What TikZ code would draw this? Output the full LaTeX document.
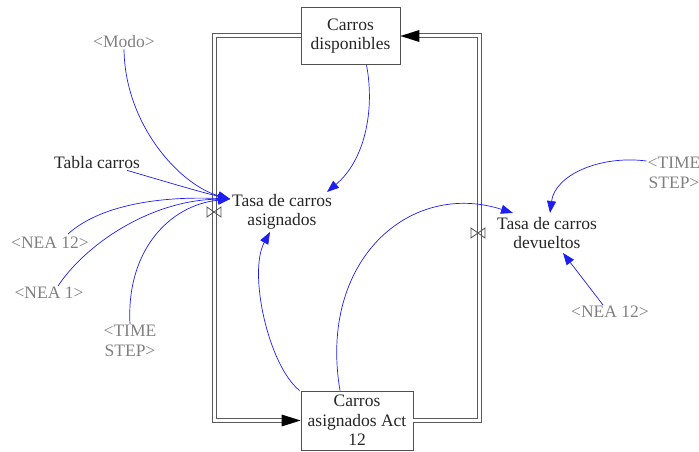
\documentclass[tikz,border=0pt]{standalone}
\usepackage{fontspec}
\setmainfont{Liberation Serif}
\usetikzlibrary{arrows.meta,calc}
\definecolor{shadowgray}{RGB}{128,128,128}
\definecolor{pipegray}{RGB}{90,90,90}
\definecolor{boxgray}{RGB}{80,80,80}
\definecolor{linkblue}{RGB}{30,30,240}
\begin{document}
\begin{tikzpicture}[x=1pt,y=-1pt,
  lbl/.style={font=\fontsize{17.5}{19.5}\selectfont, align=center, inner sep=1pt, text=black!85},
  shadowlbl/.style={lbl, text=shadowgray},
  stock/.style={lbl, draw=boxgray, line width=0.8pt, fill=white},
  pipe/.style={draw=pipegray, line width=1pt, double=white, double distance=3pt},
  pipehead/.style={fill=black},
  valve/.style={draw=boxgray, line width=0.8pt},
  link/.style={draw=linkblue, line width=0.7pt, -{Triangle[length=12pt,width=9pt]}},
]
\useasboundingbox (0,0) rectangle (699,452);

% stocks
\node[stock, minimum width=99pt, minimum height=57pt] (cd) at (350.5,36) {Carros\\disponibles};
\node[stock, minimum width=112pt, minimum height=59pt] (ca) at (357,420.5) {Carros\\asignados Act\\12};

% pipes
\coordinate (pl1) at (214,36);
\coordinate (pl2) at (214,420.5);
\coordinate (pr1) at (479,420.5);
\coordinate (pr2) at (479,36);
\draw[pipe] (cd.west) -- (pl1) -- (pl2) -- ($(ca.west)+(-10,0)$);
\draw[pipe] (ca.east) -- (pr1) -- (pr2) -- ($(cd.east)+(10,0)$);
\fill[pipehead] (ca.west) -- ++(-19,-6) -- ++(0,12) -- cycle;
\fill[pipehead] (cd.east) -- ++(19,-6) -- ++(0,12) -- cycle;

% valves
\draw[valve] (214,212) +(-7,-5) -- +(-7,5) -- +(7,-5) -- +(7,5) -- cycle;
\draw[valve] (478,233) +(-7,-5) -- +(-7,5) -- +(7,-5) -- +(7,5) -- cycle;

% rates
\node[lbl] (ta) at (282,212) {Tasa de carros\\asignados};
\node[lbl] (td) at (547,233) {Tasa de carros\\devueltos};

% auxiliaries
\node[shadowlbl] (modo) at (124,42) {<Modo>};
\node[lbl] (tabla) at (97,163) {Tabla carros};
\node[shadowlbl] (neaL) at (50,243) {<NEA 12>};
\node[shadowlbl] (nea1) at (49,293) {<NEA 1>};
\node[shadowlbl] (tsL) at (130,341) {<TIME\\STEP>};
\node[shadowlbl] (tsR) at (674,173) {<TIME\\STEP>};
\node[shadowlbl] (neaR) at (610,312) {<NEA 12>};

% link end points
\coordinate (taIn) at (230,199);
\coordinate (taTop) at (327,192);
\coordinate (taBot) at (270,232);
\coordinate (tdL) at (513,213);
\coordinate (tdTop) at (550,213);
\coordinate (tdBot) at (563,253);

% links into Tasa de carros asignados
\draw[link] (modo.south) .. controls (125,125) and (180,185) .. (taIn);
\draw[link] ($(tabla.south)+(30,0)$) .. controls (160,180) and (200,192) .. (taIn);
\draw[link] ($(neaL.north)+(18,-2)$) .. controls (100,205) and (160,196) .. (taIn);
\draw[link] ($(nea1.north)+(9,0)$) .. controls (85,245) and (150,200) .. (taIn);
\draw[link] (tsL.north) .. controls (126,250) and (170,205) .. (taIn);
\draw[link] ($(cd.south)+(16,0)$) .. controls (375,110) and (365,160) .. (taTop);
\draw[link] ($(ca.north west)+(-1,0)$) .. controls (268,365) and (248,272) .. (taBot);

% links into Tasa de carros devueltos
\draw[link] ($(ca.north)+(-17,0)$) .. controls (318,260) and (410,180) .. (tdL);
\draw[link] ($(tsR.west)+(0,-12)$) .. controls (600,155) and (555,175) .. (tdTop);
\draw[link] ($(neaR.north)+(-7,0)$) -- (tdBot);
\end{tikzpicture}
\end{document}
